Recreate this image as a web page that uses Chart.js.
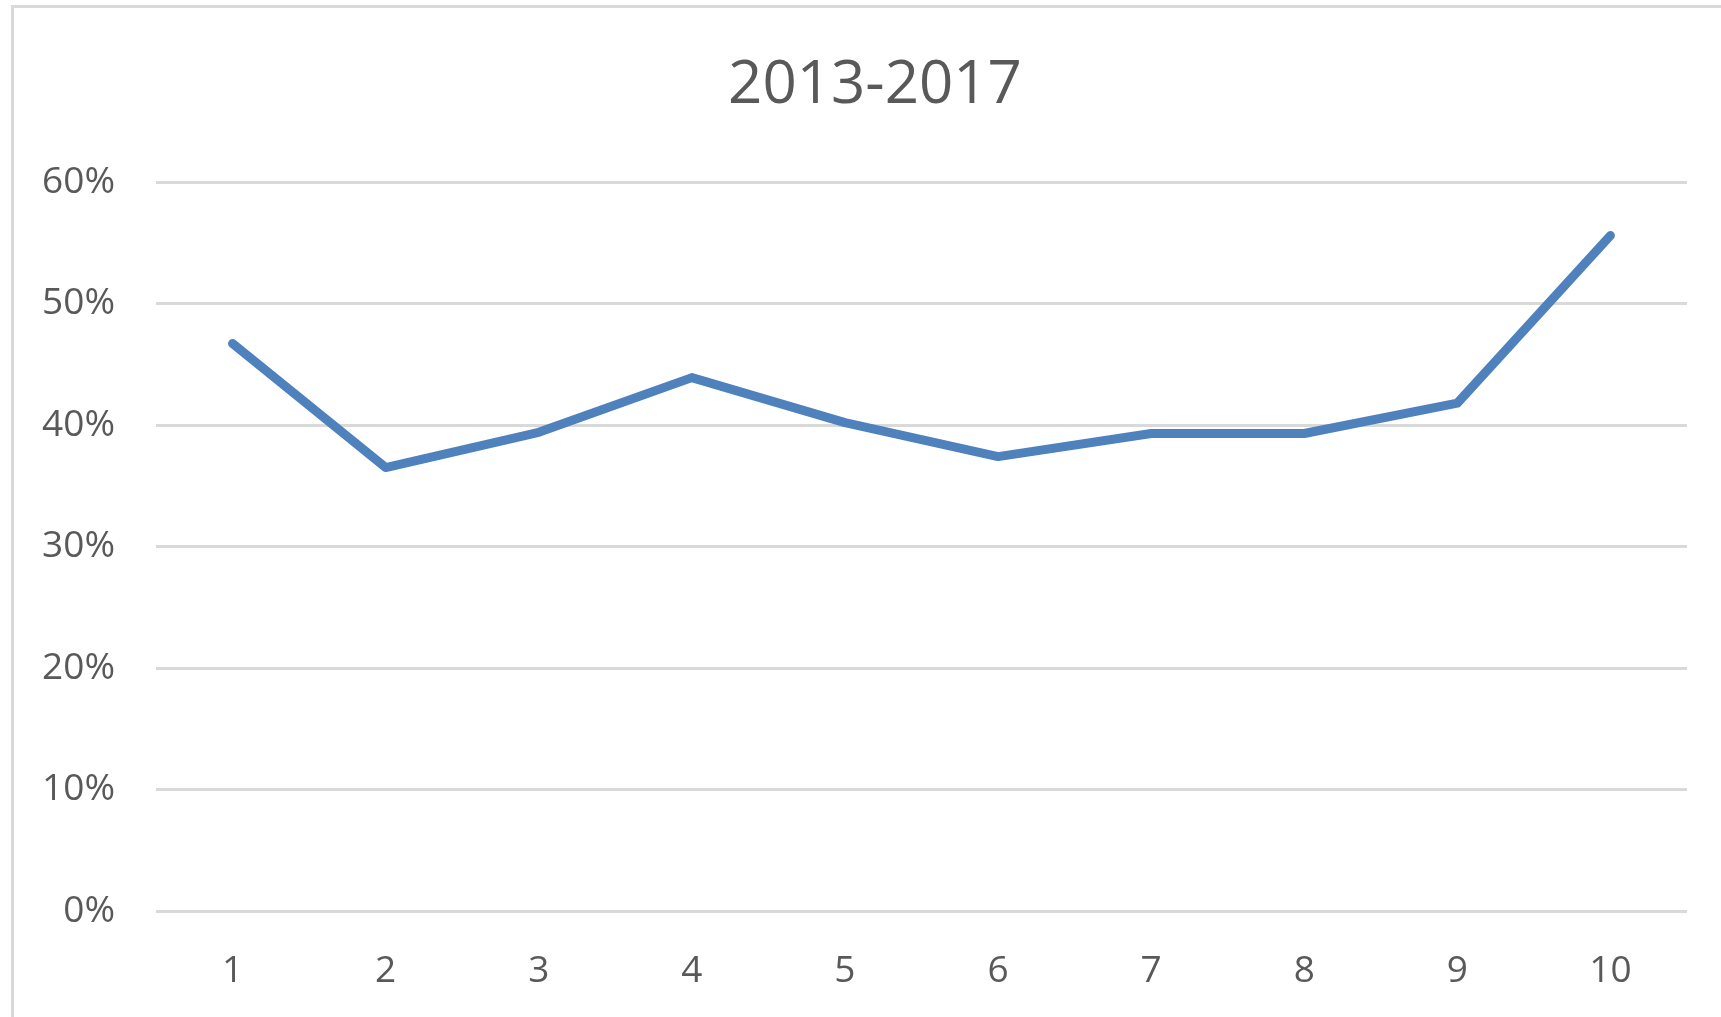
<!DOCTYPE html>
<html>
<head>
<meta charset="utf-8">
<script src="https://cdn.jsdelivr.net/npm/chart.js@4/dist/chart.umd.min.js"></script>
<style>
  html, body { margin: 0; padding: 0; background: #ffffff; overflow: hidden; }
  #wrap { position: relative; width: 1721px; height: 1017px; }
  #frame { position: absolute; left: 11px; top: 5px; width: 1740px; height: 1040px;
           border-left: 3px solid #d9d9d9; border-top: 3px solid #d9d9d9; box-sizing: border-box; pointer-events: none; }
  canvas { position: absolute; left: 0; top: 0; }
</style>
</head>
<body>
<div id="wrap">
  <canvas id="c" width="1721" height="1017"></canvas>
  <div id="frame"></div>
</div>
<script>
const chartTitle = '2013-2017';
const categories = ['1', '2', '3', '4', '5', '6', '7', '8', '9', '10'];
const seriesValues = [46.7, 36.5, 39.4, 43.9, 40.2, 37.4, 39.3, 39.3, 41.8, 55.6];
const yMin = 0;
const yMax = 60;
const yStep = 10;

const textColor = '#595959';
const fontFamily = '"Open Sans", "DejaVu Sans", sans-serif';

// shift the title block so it is centred where the original title sits
const titleShift = {
  id: 'titleShift',
  afterLayout(chart) {
    const t = chart.titleBlock;
    if (t) { t.left = 63; }
  }
};

new Chart(document.getElementById('c'), {
  type: 'line',
  data: {
    labels: categories,
    datasets: [{
      data: seriesValues,
      borderColor: '#4f81bd',
      borderWidth: 9,
      borderCapStyle: 'round',
      borderJoinStyle: 'round',
      pointRadius: 0,
      pointHoverRadius: 0,
      tension: 0,
      fill: false
    }]
  },
  plugins: [titleShift],
  options: {
    responsive: false,
    animation: false,
    devicePixelRatio: 1,
    layout: { padding: { left: 0, right: 34, top: 0, bottom: 0 } },
    plugins: {
      legend: { display: false },
      tooltip: { enabled: false },
      title: {
        display: true,
        text: chartTitle,
        color: textColor,
        font: { family: fontFamily, size: 60, weight: 'normal' },
        padding: { top: 50, bottom: 60 }
      }
    },
    scales: {
      x: {
        offset: true,
        grid: { display: false, offset: true },
        border: { display: false },
        ticks: {
          color: textColor,
          font: { family: fontFamily, size: 37 },
          padding: 30,
          maxRotation: 0,
          autoSkip: false
        },
        afterFit: (s) => { s.height = 1017 - 911; }
      },
      y: {
        min: yMin,
        max: yMax,
        grid: { color: '#d9d9d9', lineWidth: 3, drawTicks: false },
        border: { display: false },
        ticks: {
          stepSize: yStep,
          color: textColor,
          font: { family: fontFamily, size: 37 },
          padding: 41,
          callback: (v) => Math.round(v) + '%'
        },
        afterFit: (s) => { s.width = 156; }
      }
    }
  }
});
</script>
</body>
</html>
